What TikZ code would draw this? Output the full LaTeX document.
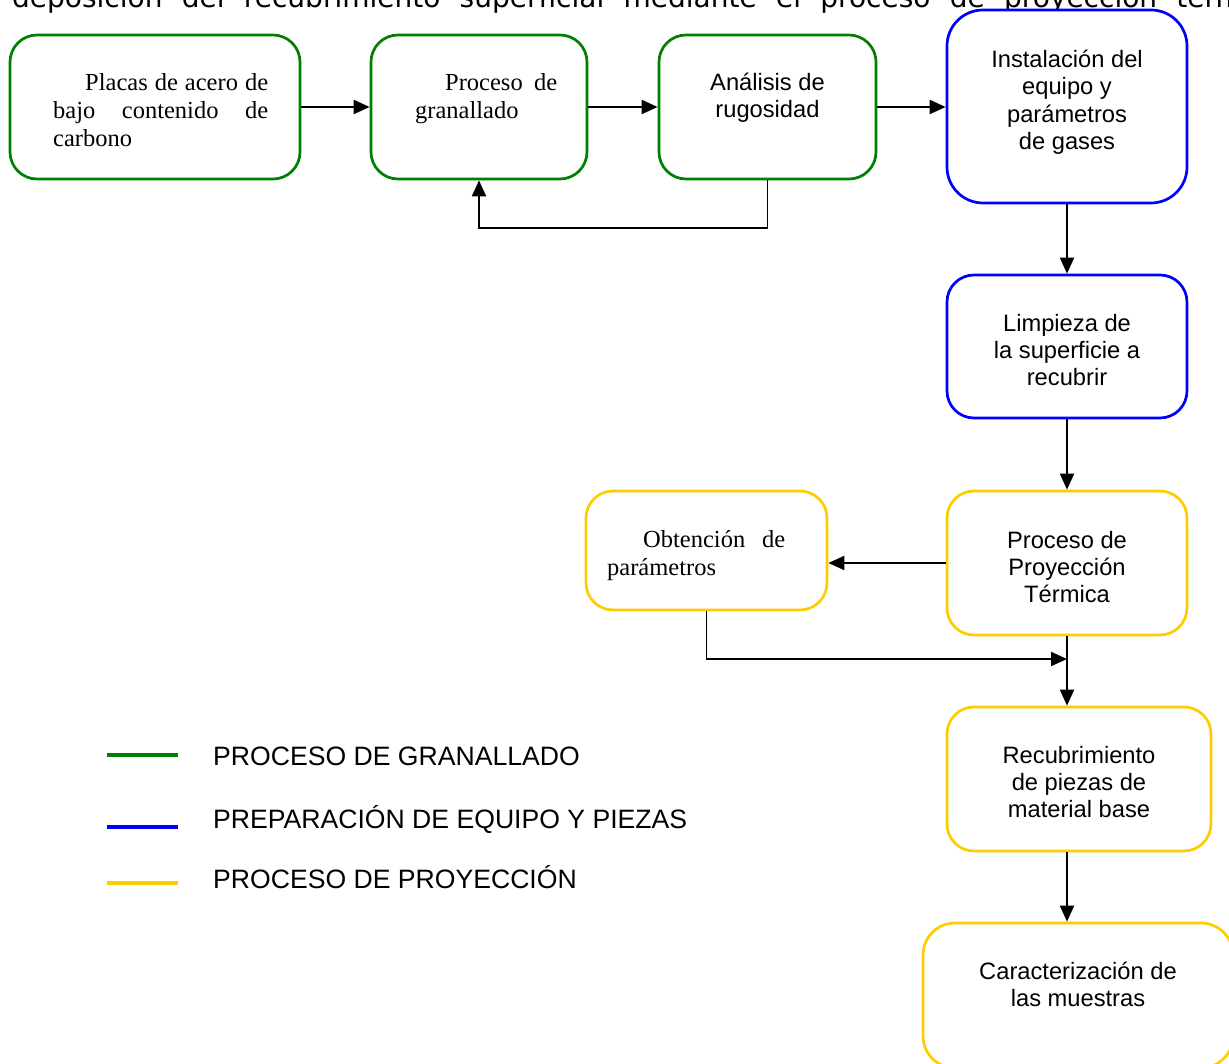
\documentclass[tikz,border=0pt]{standalone}
\usepackage{fontspec}
\setmainfont{Liberation Serif}
\newfontfamily\arialf{Liberation Sans}
\newfontfamily\verdf{DejaVu Sans}
\usetikzlibrary{arrows.meta}
\definecolor{grn}{RGB}{0,128,0}
\definecolor{blu}{RGB}{0,0,255}
\definecolor{ylw}{RGB}{255,204,0}
% a line of words spread evenly over a given width
\newcommand{\spreadline}[2]{\leavevmode\hbox to #1{#2}}
\begin{document}
\begin{tikzpicture}[x=1pt,y=-1pt,
  box/.style={draw, line width=2.7pt, rounded corners=27pt, inner sep=0pt, fill=white},
  gbox/.style={box, draw=grn},
  bbox/.style={box, draw=blu},
  ybox/.style={box, draw=ylw},
  flow/.style={line width=1.9pt, -{Triangle[length=16pt,width=14pt]}},
  sans/.style={font=\arialf\fontsize{23.7}{27.3}\selectfont, align=center, inner sep=0pt, anchor=north},
  serif/.style={font=\fontsize{24.5}{28}\selectfont, align=left, inner sep=0pt, anchor=north west},
  legendtxt/.style={font=\arialf\fontsize{26.6}{30}\selectfont, inner sep=0pt, anchor=base west},
  swatch/.style={line width=4pt}]
\useasboundingbox (0,0) rectangle (1229,1064);
\clip (0,0) rectangle (1229,1064);

% running text line above the chart
\node[font=\verdf\fontsize{28}{32}\selectfont, inner sep=0pt, anchor=base west] (head) at (12,8)
  {\spreadline{1271pt}{deposición\hfill del\hfill recubrimiento\hfill superficial\hfill mediante\hfill el\hfill proceso\hfill de\hfill proyección\hfill térmica}};

% boxes
\node[gbox, minimum width=290pt, minimum height=144pt] (b1) at (155,107) {};
\node[gbox, minimum width=216pt, minimum height=144pt] (b2) at (479,107) {};
\node[gbox, minimum width=217pt, minimum height=144pt] (b3) at (767.5,107) {};
\node[bbox, rounded corners=36pt, minimum width=240pt, minimum height=193pt] (b4) at (1067,106.5) {};
\node[bbox, minimum width=240pt, minimum height=143pt] (b5) at (1067,346.5) {};
\node[ybox, minimum width=240pt, minimum height=144pt] (b6) at (1067,563) {};
\node[ybox, minimum width=241pt, minimum height=119pt] (b7) at (706.5,550.5) {};
\node[ybox, minimum width=264pt, minimum height=144pt] (b8) at (1079,779) {};
\node[ybox, rounded corners=32pt, minimum width=310pt, minimum height=145pt] (b9) at (1078,995.5) {};

% box texts
\node[serif, text width=215pt] (t1) at (53,73)
  {\hspace*{32pt}\spreadline{183pt}{Placas\hfill de\hfill acero\hfill de}\\
   \spreadline{215pt}{bajo\hfill contenido\hfill de}\\carbono};
\node[serif, text width=142pt] (t2) at (415,73)
  {\hspace*{30pt}\spreadline{112pt}{Proceso\hfill de}\\granallado};
\node[sans] (t3) at (767.5,73) {Análisis de\\rugosidad};
\node[sans] (t4) at (1067,50) {Instalación del\\equipo y\\parámetros\\de gases};
\node[sans] (t5) at (1067,314) {Limpieza de\\la superficie a\\recubrir};
\node[sans] (t6) at (1067,531) {Proceso de\\Proyección\\Térmica};
\node[serif, text width=178pt] (t7) at (607,530)
  {\hspace*{36pt}\spreadline{142pt}{Obtención\hfill de}\\parámetros};
\node[sans] (t8) at (1079,746) {Recubrimiento\\de piezas de\\material base};
\node[sans] (t9) at (1078,962) {Caracterización de\\las muestras};

% connectors
\draw[flow] (b1.east) -- (b2.west);
\draw[flow] (b2.east) -- (b3.west);
\draw[flow] (b3.east) -- (b3.east -| b4.west);
\draw[flow] (b3.south) -- ++(0,48) -| (b2.south);
\draw[flow] (b4.south) -- (b5.north);
\draw[flow] (b5.south) -- (b6.north);
\draw[flow] (b6.west) -- (b6.west -| b7.east);
\coordinate (merge) at (1067,659);
\draw[flow] (b7.south) |- (merge);
\draw[flow] (b6.south) -- (b6.south |- b8.north);
\draw[flow] (b6.south |- b8.south) -- (b6.south |- b9.north);

% legend
\draw[swatch, grn] (107,755) -- (178,755);
\draw[swatch, blu] (107,827) -- (178,827);
\draw[swatch, ylw] (107,883) -- (178,883);
\node[legendtxt] (l1) at (213,765) {PROCESO DE GRANALLADO};
\node[legendtxt] (l2) at (213,828) {PREPARACIÓN DE EQUIPO Y PIEZAS};
\node[legendtxt] (l3) at (213,888) {PROCESO DE PROYECCIÓN};
\end{tikzpicture}
\end{document}
